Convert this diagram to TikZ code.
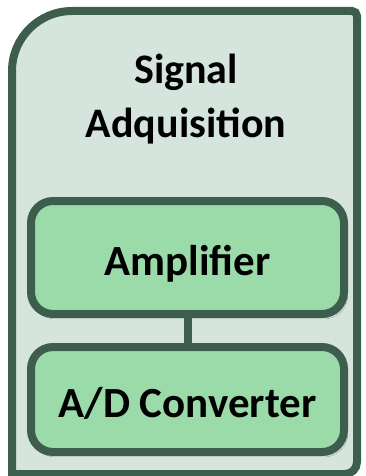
\documentclass[tikz,border=0pt]{standalone}
\usepackage{fontspec}
\setmainfont{Carlito}
\usetikzlibrary{shadows.blur}
\definecolor{frameGreen}{RGB}{61,94,77}
\definecolor{panelFill}{RGB}{214,228,222}
\definecolor{blockFill}{RGB}{155,219,170}
\tikzset{
  panel/.style={draw=frameGreen, line width=8pt, fill=panelFill,
    blur shadow={shadow xshift=1pt, shadow yshift=-2pt, shadow blur steps=6, shadow opacity=25}},
  block/.style={draw=frameGreen, line width=8pt, fill=blockFill, rounded corners=22pt,
    minimum width=313pt, inner sep=0pt, text height=35pt, text depth=0pt,
    font=\bfseries\fontsize{43}{50}\selectfont,
    blur shadow={shadow xshift=2pt, shadow yshift=-3pt, shadow blur steps=6, shadow opacity=30}},
  link/.style={draw=frameGreen, line width=8pt},
  heading/.style={font=\bfseries\fontsize{42}{54}\selectfont, align=center, inner sep=0pt}
}
\begin{document}
\begin{tikzpicture}[x=1pt,y=1pt]
  \useasboundingbox (0,0) rectangle (365,-476);
  % outer panel: large rounding top-left, small elsewhere
  \path[panel] (12,-480) -- (12,-71) arc[start angle=180, end angle=90, radius=60]
    -- (352,-11) arc[start angle=90, end angle=0, radius=5]
    -- (357,-462) arc[start angle=0, end angle=-90, radius=12]
    -- (14,-474) -- cycle;
  % two-line heading; base anchor sits on the last line
  \node[heading, anchor=base] (title) at (186,-137) {Signal\\Adquisition};
  \node[block, minimum height=113pt] (amp) at (187.5,-257.5) {Amplifier};
  \node[block, minimum height=105pt] (adc) at (187.5,-399.5) {A/D Converter};
  \draw[link] (amp.south) -- (adc.north);
\end{tikzpicture}
\end{document}
